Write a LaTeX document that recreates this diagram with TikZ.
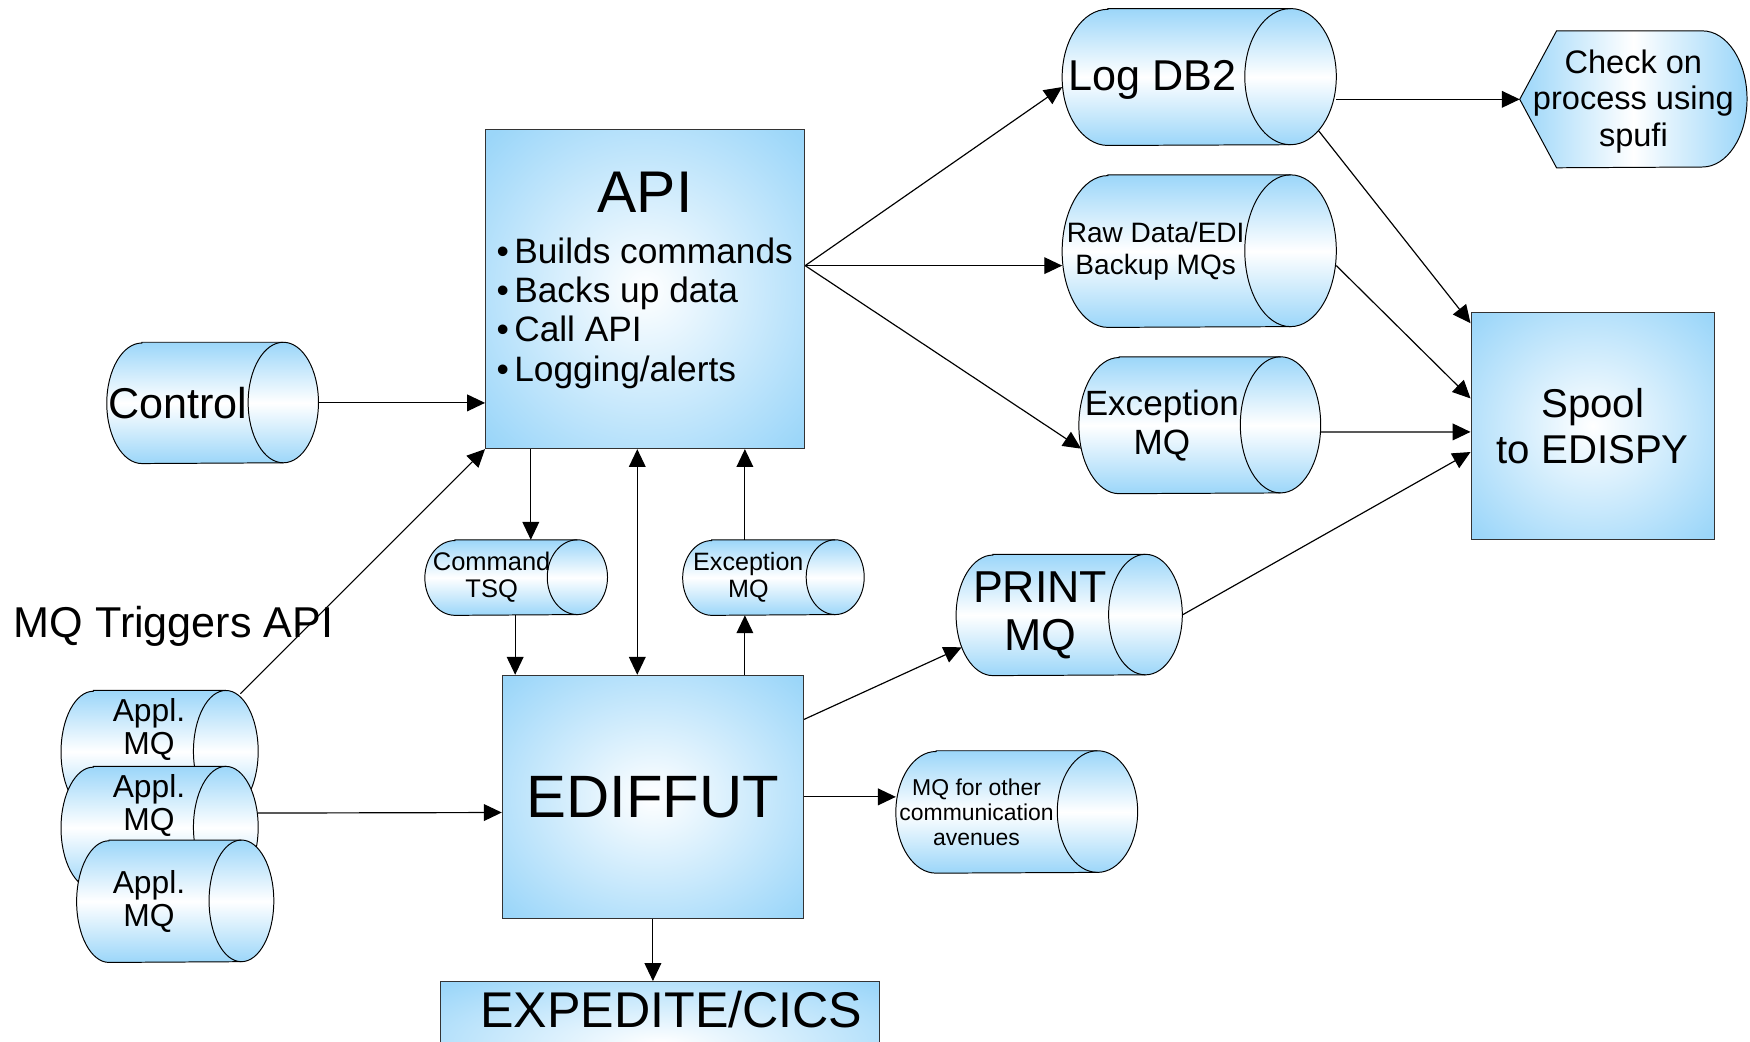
\documentclass[tikz,border=0pt]{standalone}
\usepackage{fontspec}
\setmainfont{Liberation Sans}
\usetikzlibrary{arrows.meta, positioning, shapes.geometric, calc, backgrounds}
\definecolor{qblue}{RGB}{155,214,249}
\pgfdeclareradialshading{boxglow}{\pgfpoint{0bp}{0bp}}{color(0bp)=(white); color(34bp)=(qblue); color(50bp)=(qblue)}
\newcommand{\fsz}[2]{\fontsize{#1}{#2}\selectfont}

\begin{document}
\begin{tikzpicture}[x=0.02cm, y=-0.02cm,
    box/.style={draw=black!80, line width=0.5pt, shade, shading=boxglow, inner sep=0pt, align=center},
    mq/.style={inner sep=0pt},
    mqtext/.style={inner sep=0pt, align=center},
    drum/.style={draw, line width=0.5pt, top color=qblue, bottom color=qblue, middle color=white},
    arr/.style={-{Triangle[length=0.32cm, width=0.3cm]}, line width=0.6pt},
    arrboth/.style={{Triangle[length=0.32cm, width=0.3cm]}-{Triangle[length=0.32cm, width=0.3cm]}, line width=0.6pt},
    ]
    \useasboundingbox (0,0) rectangle (1568,933);
    \clip (0,0) rectangle (1568,933);

    % API and the utility
    \node[box, minimum width=5.72cm, minimum height=5.72cm] (api) at (578,259) {\parbox[c][5.72cm][t]{5.32cm}{%
        \vspace*{0.76cm}\centering\fsz{30}{34}API\par
        \vspace{6pt}\raggedright\fsz{18}{20}%
        \textbullet\hspace{0.15em}Builds commands\\
        \textbullet\hspace{0.15em}Backs up data\\
        \textbullet\hspace{0.15em}Call API\\
        \textbullet\hspace{0.15em}Logging/alerts}};
    \node[box, minimum width=5.4cm, minimum height=4.36cm, font=\fsz{30.5}{34}] (ediffut) at (585,714) {EDIFFUT};
    \node[box, anchor=north, minimum width=7.86cm, text height=0.82cm, text depth=1.4cm, font=\fsz{25.6}{28}] (expedite) at (591.5,879) {\hspace*{0.4cm}EXPEDITE/CICS};
    \node[box, minimum width=4.36cm, minimum height=4.06cm, font=\fsz{20.5}{23.5}] (spool) at (1427,381.5) {Spool\\to EDISPY};

    % queues on the left
    \node[mq, minimum width=3.78cm, minimum height=2.16cm, label={[mqtext, name=ctrl-t, xshift=-0.62cm, font=\fsz{22}{25}]center:Control}] (ctrl) at (190.5,361) {};
    \node[mq, minimum width=3.52cm, minimum height=2.18cm, label={[mqtext, name=appl1-t, xshift=-0.19cm, yshift=0.4cm, font=\fsz{16.2}{17}]center:Appl.\\MQ}] (appl1) at (143,673.5) {};
    \node[mq, minimum width=3.52cm, minimum height=2.18cm, label={[mqtext, name=appl2-t, xshift=-0.19cm, yshift=0.4cm, font=\fsz{16.2}{17}]center:Appl.\\MQ}] (appl2) at (143,741.5) {};
    \node[mq, minimum width=3.52cm, minimum height=2.18cm, label={[mqtext, name=appl3-t, xshift=-0.47cm, font=\fsz{16.2}{17}]center:Appl.\\MQ}] (appl3) at (157,807.5) {};
    \node[anchor=base west, inner sep=0pt, font=\fsz{22}{25}] (trig) at (12,571) {MQ Triggers API};

    % queues between API and EDIFFUT
    \node[mq, minimum width=3.26cm, minimum height=1.34cm, label={[mqtext, name=cmdtsq-t, xshift=-0.44cm, font=\fsz{13}{13.7}]center:Command\\TSQ}] (cmdtsq) at (462.5,517.5) {};
    \node[mq, minimum width=3.24cm, minimum height=1.34cm, label={[mqtext, name=excsmall-t, xshift=-0.45cm, font=\fsz{12.8}{13.7}]center:Exception\\MQ}] (excsmall) at (693,517.5) {};

    % queues on the right
    \node[mq, minimum width=4.9cm, minimum height=2.44cm, label={[mqtext, name=logdb-t, xshift=-0.84cm, yshift=-0.06cm, font=\fsz{22}{25}]center:Log DB2}] (logdb) at (1074.5,69) {};
    \node[mq, minimum width=4.9cm, minimum height=2.72cm, label={[mqtext, name=rawmq-t, xshift=-0.78cm, font=\fsz{14.3}{16}]center:Raw Data/EDI\\Backup MQs}] (rawmq) at (1074.5,225) {};
    \node[mq, minimum width=4.32cm, minimum height=2.44cm, label={[mqtext, name=excmq-t, xshift=-0.68cm, font=\fsz{17.9}{20}]center:Exception\\MQ}] (excmq) at (1075,381) {};
    \node[mq, minimum width=4.04cm, minimum height=2.16cm, label={[mqtext, name=printmq-t, xshift=-0.52cm, font=\fsz{22.8}{24.5}]center:PRINT\\MQ}] (printmq) at (958,551) {};
    \node[mq, minimum width=4.32cm, minimum height=2.18cm, label={[mqtext, name=othermq-t, xshift=-0.72cm, font=\fsz{11.7}{12.8}]center:MQ for other\\communication\\avenues}] (othermq) at (911,727.5) {};

    % display symbol
    \node[inner sep=0pt, minimum width=4.06cm, minimum height=2.44cm, align=center, font=\fsz{16.6}{18.8}] (chk) at (1463.5,91) {Check on\\process using\\spufi};

    \begin{pgfonlayer}{background}
        \draw[line width=0.5pt, left color=qblue, right color=qblue, middle color=white]
            ([yshift=0.04cm]chk.west) -- ([xshift=0.66cm, yshift=0.04cm]chk.north west) -- ([xshift=-0.8cm, yshift=0.04cm]chk.north east)
            arc[start angle=90, end angle=-90, x radius=0.8cm, y radius=1.22cm]
            -- ([xshift=0.66cm, yshift=0.04cm]chk.south west) -- cycle;
        % cylinders: name / cap x radius / half height
        \foreach \nm/\rad/\hr in {ctrl/31.5/54, appl1/29/54.5, appl2/29/54.5, appl3/29/54.5,
                cmdtsq/27/33.5, excsmall/26/33.5, logdb/41/61, rawmq/41/68,
                excmq/36/61, printmq/33/54, othermq/36/54.5}{
            \draw[drum] ($(\nm.north west)+(\rad,0)$) -- ($(\nm.north east)+(-\rad,0)$)
                arc[start angle=90, end angle=-90, x radius=\rad*0.02cm, y radius=\hr*0.02cm]
                -- ($(\nm.south west)+(\rad,0)$)
                arc[start angle=270, end angle=90, x radius=\rad*0.02cm, y radius=\hr*0.02cm] -- cycle;
            \draw[line width=0.5pt] ($(\nm.north east)+(-\rad,0)$)
                arc[start angle=90, end angle=270, x radius=\rad*0.02cm, y radius=\hr*0.02cm];
        }
    \end{pgfonlayer}

    % inputs
    \draw[arr] (ctrl.east) -- (ctrl.east -| api.west);
    \draw[arr] ($(appl1.north east)+(-16,3)$) -- (api.south west);
    \draw[arr] ($(appl2.east)+(0,-13)$) -- ($(ediffut.west)+(0,14)$);

    % API to its queues
    \draw[arr] ($(api.east)+(0,-21)$) -- ($(logdb.west)+(0,9)$);
    \draw[arr] ($(api.east)+(0,-21)$) -- ($(rawmq.west)+(0,13)$);
    \draw[arr] ($(api.east)+(0,-21)$) -- ($(excmq.west)+(2,21)$);

    % API <-> EDIFFUT
    \coordinate (tsqin) at ($(api.south west)+(41,0)$);
    \coordinate (tsqout) at ($(ediffut.north west)+(12,0)$);
    \coordinate (duplex) at ($(api.south)+(-7,0)$);
    \coordinate (excx) at ($(ediffut.north east)+(-53,0)$);
    \draw[arr] (tsqin) -- (tsqin |- cmdtsq.north);
    \draw[arr] (tsqout |- cmdtsq.south) -- (tsqout);
    \draw[arrboth] (duplex) -- (duplex |- ediffut.north);
    \draw[arr] (excx) -- (excx |- excsmall.south);
    \draw[arr] (excx |- excsmall.north) -- (excx |- api.south);

    % EDIFFUT outputs
    \draw[arr] ($(ediffut.north east)+(0,40)$) -- ($(printmq.west)+(5,29)$);
    \draw[arr] (ediffut.east) -- (ediffut.east -| othermq.west);
    \draw[arr] (ediffut.south) -- (ediffut.south |- expedite.north);

    % spool and check
    \draw[arr] ([yshift=0.04cm]chk.west -| logdb.east) -- ([yshift=0.04cm]chk.west);
    \draw[arr] ($(logdb.east)+(-16,48)$) -- ($(spool.north west)+(0,10)$);
    \draw[arr] ($(rawmq.east)+(0,13)$) -- ($(spool.west)+(0,-24.5)$);
    \draw[arr] ($(excmq.east)+(0,6)$) -- ($(spool.west)+(0,5.5)$);
    \draw[arr] (printmq.east) -- ($(spool.west)+(0,23.5)$);
\end{tikzpicture}
\end{document}
